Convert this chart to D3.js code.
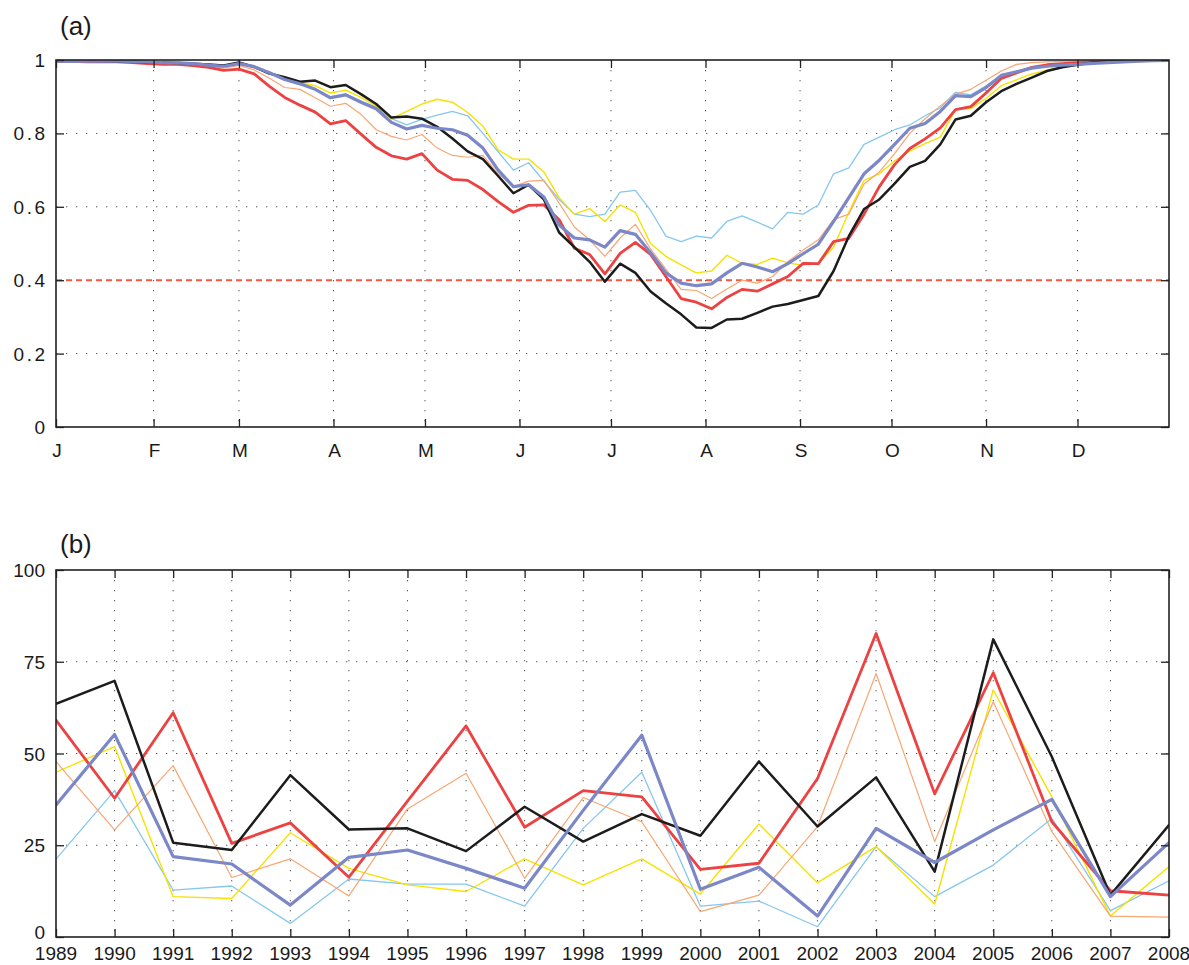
<!DOCTYPE html>
<html>
<head>
<meta charset="utf-8">
<script src="https://cdn.jsdelivr.net/npm/d3@7"></script>
<style>
  html, body { margin: 0; padding: 0; background: #fff; }
  svg text { font-family: "Liberation Sans", Arial, Helvetica, sans-serif; fill: #1a1a1a; }
</style>
</head>
<body>
<svg id="chart" width="1189" height="965"></svg>
<script>
// ---------- Panel (a) data: day of year, values ----------
const days = [0,5,10,15,20,25,30,35,40,45,50,55,60,65,70,75,80,85,90,95,100,105,110,115,120,125,130,135,140,145,150,155,160,165,170,175,180,185,190,195,200,205,210,215,220,225,230,235,240,245,250,255,260,265,270,275,280,285,290,295,300,305,310,315,320,325,330,335,340,345,350,355,360,365];

const dailyBlack = [0.997,0.998,0.998,0.997,0.996,0.995,0.994,0.993,0.992,0.990,
  0.988,0.985,0.993,0.981,0.963,0.953,0.941,0.944,0.926,0.932,
  0.907,0.880,0.843,0.846,0.840,0.818,0.786,0.751,0.730,0.684,
  0.637,0.660,0.620,0.530,0.490,0.450,0.396,0.445,0.420,0.369,
  0.337,0.307,0.271,0.270,0.293,0.295,0.311,0.328,0.335,0.346,
  0.357,0.425,0.520,0.594,0.620,0.663,0.709,0.725,0.770,0.838,
  0.848,0.885,0.915,0.935,0.952,0.970,0.980,0.987,0.993,0.996,
  0.997,0.998,0.999,1.000];

const dailyRed = [0.997,0.996,0.995,0.995,0.995,0.993,0.990,0.988,0.988,0.985,
  0.980,0.972,0.975,0.962,0.928,0.898,0.877,0.858,0.826,0.835,
  0.798,0.762,0.739,0.730,0.745,0.700,0.675,0.672,0.647,0.614,
  0.585,0.604,0.605,0.565,0.487,0.470,0.417,0.473,0.503,0.470,
  0.410,0.350,0.340,0.322,0.353,0.375,0.370,0.390,0.410,0.446,
  0.445,0.505,0.514,0.580,0.655,0.715,0.759,0.785,0.815,0.865,
  0.873,0.910,0.950,0.965,0.980,0.987,0.990,0.993,0.995,0.996,
  0.997,0.998,0.999,1.000];

const dailyBlue = [0.997,0.996,0.997,0.997,0.997,0.996,0.995,0.993,0.992,0.990,
  0.986,0.983,0.990,0.982,0.965,0.947,0.935,0.920,0.897,0.905,
  0.885,0.867,0.830,0.812,0.822,0.814,0.810,0.795,0.760,0.700,
  0.655,0.660,0.627,0.550,0.515,0.510,0.490,0.535,0.525,0.475,
  0.420,0.392,0.385,0.390,0.420,0.446,0.436,0.423,0.445,0.472,
  0.498,0.560,0.625,0.690,0.727,0.770,0.814,0.827,0.860,0.903,
  0.900,0.925,0.958,0.968,0.978,0.983,0.986,0.988,0.991,0.993,
  0.995,0.997,0.998,0.999];

const dailyLightBlue = [0.997,0.997,0.997,0.997,0.997,0.996,0.995,0.993,0.992,0.990,
  0.987,0.984,0.991,0.983,0.966,0.948,0.936,0.922,0.900,0.908,
  0.888,0.872,0.840,0.823,0.838,0.850,0.860,0.848,0.800,0.750,
  0.700,0.720,0.670,0.620,0.580,0.573,0.580,0.640,0.645,0.590,
  0.520,0.505,0.520,0.515,0.560,0.575,0.558,0.540,0.585,0.580,
  0.605,0.690,0.706,0.770,0.790,0.810,0.823,0.848,0.870,0.912,
  0.905,0.930,0.957,0.967,0.978,0.983,0.986,0.988,0.991,0.993,
  0.995,0.997,0.998,0.999];

const dailyYellow = [0.997,0.997,0.998,0.997,0.996,0.995,0.994,0.993,0.992,0.990,
  0.987,0.985,0.992,0.984,0.965,0.950,0.938,0.930,0.910,0.918,
  0.898,0.875,0.840,0.860,0.880,0.893,0.885,0.857,0.820,0.755,
  0.730,0.730,0.695,0.625,0.580,0.595,0.560,0.605,0.585,0.500,
  0.465,0.442,0.420,0.425,0.468,0.446,0.443,0.460,0.447,0.441,
  0.445,0.490,0.585,0.672,0.690,0.725,0.752,0.772,0.790,0.865,
  0.868,0.895,0.930,0.946,0.962,0.972,0.982,0.988,0.992,0.995,
  0.997,0.998,0.999,1.000];

const dailyOrange = [0.997,0.997,0.997,0.996,0.996,0.994,0.992,0.991,0.990,0.988,
  0.984,0.978,0.985,0.973,0.950,0.925,0.920,0.897,0.874,0.882,
  0.852,0.810,0.792,0.782,0.797,0.760,0.740,0.735,0.740,0.690,
  0.655,0.670,0.672,0.610,0.545,0.510,0.465,0.515,0.552,0.485,
  0.430,0.375,0.372,0.350,0.376,0.400,0.392,0.410,0.450,0.482,
  0.510,0.565,0.580,0.662,0.695,0.745,0.800,0.840,0.875,0.907,
  0.920,0.945,0.970,0.988,0.993,0.995,0.996,0.997,0.998,0.998,
  0.999,0.999,1.000,1.000];

const monthTickDays = [0,32,60,91,121,152,182,213,244,274,305,335];
const monthLabels = ["J","F","M","A","M","J","J","A","S","O","N","D"];
const yTicksA = [0,0.2,0.4,0.6,0.8,1];
const yTickLabelsA = ["0","0.2","0.4","0.6","0.8","1"];
const thresholdA = 0.4;

// ---------- Panel (b) data: yearly values ----------
const years = [1989,1990,1991,1992,1993,1994,1995,1996,1997,1998,1999,2000,2001,2002,2003,2004,2005,2006,2007,2008];
const yearlyBlack = [63.5,69.8,25.7,23.7,44.1,29.3,29.6,23.4,35.5,26.0,33.5,27.6,47.8,30.1,43.5,17.8,81.1,49.1,11.4,30.5];
const yearlyRed = [59.1,37.8,61.1,25.5,31.1,16.3,37.0,57.5,29.9,39.9,38.2,18.4,20.1,43.2,82.7,39.0,72.0,31.4,12.6,11.4];
const yearlyBlue = [36.0,55.2,21.9,19.9,8.7,21.7,23.7,18.7,13.3,34.5,55.0,13.0,19.0,5.7,29.6,20.3,29.2,37.5,11.0,25.7];
const yearlyYellow = [44.9,51.9,11.0,10.5,28.4,18.7,14.2,12.4,21.3,14.2,21.3,11.7,30.8,14.8,24.6,9.0,67.3,38.2,5.7,19.2];
const yearlyOrange = [47.8,29.2,46.7,16.2,21.3,11.2,34.9,44.6,16.0,38.0,31.4,6.9,11.4,30.1,71.8,26.0,64.1,28.7,5.7,5.4];
const yearlyLightBlue = [21.2,39.9,12.8,13.9,3.7,15.8,14.4,14.4,8.4,29.6,44.9,8.4,9.8,2.8,24.6,11.0,19.6,32.3,7.2,15.3];
const yTicksB = [0,25,50,75,100];

// ---------- Series styles (drawing order: first = bottom) ----------
const seriesStyle = [
  {key:"lightblue", color:"#86c7ef", width:1.3},
  {key:"yellow",    color:"#f6e200", width:1.4},
  {key:"orange",    color:"#f8a672", width:1.2},
  {key:"red",       color:"#ec4242", width:2.8},
  {key:"black",     color:"#1c1c1c", width:2.5},
  {key:"blue",      color:"#7b87c7", width:3.2}
];
const dailyData = {lightblue:dailyLightBlue, yellow:dailyYellow, orange:dailyOrange, red:dailyRed, black:dailyBlack, blue:dailyBlue};
const yearlyData = {lightblue:yearlyLightBlue, yellow:yearlyYellow, orange:yearlyOrange, red:yearlyRed, black:yearlyBlack, blue:yearlyBlue};

const svg = d3.select("#chart");
svg.append("rect").attr("width",1189).attr("height",965).attr("fill","#fff");

const L = 56, R = 1169;
const tickLen = 8;
const gridDash = "1.3,8.7";
const gridColor = "#555";

function panel(opts) {
  const g = svg.append("g");
  const x = opts.x, y = opts.y;
  const [y0, y1] = y.range(); // bottom, top
  const clipId = opts.id + "-clip";
  svg.append("clipPath").attr("id", clipId)
    .append("rect").attr("x", L).attr("y", y1).attr("width", R - L).attr("height", y0 - y1);

  // grid
  const grid = g.append("g");
  grid.selectAll("line.v").data(opts.xGrid).join("line")
    .attr("x1", d => x(d)).attr("x2", d => x(d)).attr("y1", y1).attr("y2", y0)
    .attr("stroke", gridColor).attr("stroke-width", 1).attr("stroke-dasharray", gridDash);
  grid.selectAll("line.h").data(opts.yGrid).join("line")
    .attr("x1", L).attr("x2", R).attr("y1", d => y(d)).attr("y2", d => y(d))
    .attr("stroke", gridColor).attr("stroke-width", 1).attr("stroke-dasharray", gridDash);

  if (opts.extra) opts.extra(g, x, y);

  // lines
  const lines = g.append("g").attr("clip-path", `url(#${clipId})`);
  seriesStyle.forEach(s => {
    const vals = opts.data[s.key];
    const line = d3.line().x((d, i) => x(opts.xs[i])).y(d => y(d));
    lines.append("path").datum(vals)
      .attr("d", line).attr("fill", "none")
      .attr("stroke", s.color).attr("stroke-width", s.width)
      .attr("stroke-linejoin", "round").attr("stroke-linecap", "round");
  });

  // axes with inward ticks
  const axB = d3.axisBottom(x).tickValues(opts.xTicks).tickSize(-tickLen).tickFormat("");
  const axT = d3.axisTop(x).tickValues(opts.xTicks).tickSize(-tickLen).tickFormat("");
  const axL = d3.axisLeft(y).tickValues(opts.yTicks).tickSize(-tickLen).tickFormat("");
  const axR = d3.axisRight(y).tickValues(opts.yTicks).tickSize(-tickLen).tickFormat("");
  [[axB, `translate(0,${y0})`], [axT, `translate(0,${y1})`], [axL, `translate(${L},0)`], [axR, `translate(${R},0)`]]
    .forEach(([ax, tr]) => {
      const a = g.append("g").attr("transform", tr).call(ax);
      a.select(".domain").remove();
      a.selectAll(".tick line").attr("stroke", "#222").attr("stroke-width", 1.3);
    });
  g.append("rect").attr("x", L).attr("y", y1).attr("width", R - L).attr("height", y0 - y1)
    .attr("fill", "none").attr("stroke", "#222").attr("stroke-width", 1.6);

  // tick labels
  g.selectAll("text.xl").data(opts.xTicks).join("text")
    .attr("x", d => x(d) + (opts.xLabelDx || 0)).attr("y", y0 + opts.xLabelDy)
    .attr("text-anchor", "middle").attr("font-size", opts.fontSize)
    .text((d, i) => opts.xLabels[i]);
  g.selectAll("text.yl").data(opts.yTicks).join("text")
    .attr("x", opts.yLabelX).attr("y", d => y(d) + (d === 0 ? opts.zeroDy : 7))
    .attr("text-anchor", "end").attr("font-size", opts.fontSize)
    .attr("letter-spacing", opts.yLetterSpacing || 0)
    .text((d, i) => opts.yLabels[i]);

  svg.append("text").attr("x", 60).attr("y", opts.titleY)
    .attr("font-size", 26).text(opts.title);
}

// Panel (a)
const xa = d3.scaleLinear().domain([0, 365]).range([L, R]);
const ya = d3.scaleLinear().domain([0, 1]).range([427, 60]);
panel({
  id: "pa", x: xa, y: ya, xs: days, data: dailyData,
  xGrid: monthTickDays.slice(1), yGrid: [0.2, 0.6, 0.8],
  xTicks: monthTickDays, xLabels: monthLabels, xLabelDy: 30, xLabelDx: 1,
  yTicks: yTicksA, yLabels: yTickLabelsA, yLetterSpacing: 2.5, yLabelX: 47.5, zeroDy: 7,
  fontSize: 19, title: "(a)", titleY: 35,
  extra: (g, x, y) => {
    g.append("line").attr("x1", L).attr("x2", R)
      .attr("y1", y(thresholdA)).attr("y2", y(thresholdA))
      .attr("stroke", "#ef5a45").attr("stroke-width", 2).attr("stroke-dasharray", "6,4");
  }
});

// Panel (b)
const xb = d3.scaleLinear().domain([1989, 2008]).range([L, R]);
const yb = d3.scaleLinear().domain([0, 100]).range([937, 570]);
panel({
  id: "pb", x: xb, y: yb, xs: years, data: yearlyData,
  xGrid: years.slice(1, -1), yGrid: [25, 50, 75],
  xTicks: years, xLabels: years.map(String), xLabelDy: 23,
  yTicks: yTicksB, yLabels: yTicksB.map(String), yLabelX: 45, zeroDy: 2,
  fontSize: 19, title: "(b)", titleY: 553
});
</script>
</body>
</html>
